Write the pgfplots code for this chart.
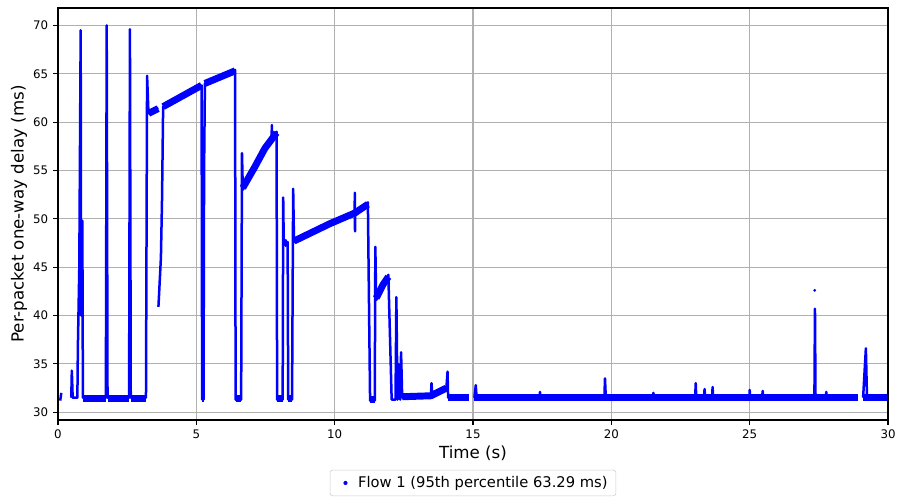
\documentclass[border=0pt]{standalone}
\usepackage{pgfplots}
\pgfplotsset{compat=1.18}
\usepackage{fontspec}
\setmainfont{DejaVu Sans}
\begin{document}
\begin{tikzpicture}
\begin{axis}[
 scale only axis, width=597.6pt, height=296.6pt,
 xmin=0, xmax=30, ymin=29.2, ymax=71.8,
 xtick={0,5,...,30}, ytick={30,35,...,70},
 grid=major, major grid style={color=black!31, line width=0.8pt},
 axis line style={line width=0.8pt},
 tick style={black, line width=0.8pt}, tick align=outside, major tick length=3.5pt, tick pos=left,
 /pgf/number format/assume math mode=true,
 ticklabel style={font=\fontsize{8.5}{10}\selectfont},
 xlabel={Time (s)}, ylabel={Per-packet one-way delay (ms)},
 label style={font=\fontsize{12}{14}\selectfont},
 xlabel style={at={(axis description cs:0.5,-0.080)}, anchor=center},
 ylabel style={at={(axis description cs:-0.047,0.5)}, anchor=center},
 legend style={at={(0.5,-0.121)}, anchor=north, draw=black!20, rounded corners=2pt,
   font=\fontsize{10.6}{12}\selectfont, legend cell align=left, inner xsep=4pt, inner ysep=2.5pt},
]
% thin trace (vertical excursions)
\addplot[blue, line width=1.8pt, forget plot] coordinates {(0.08,31.2)(0.12,32.0)};
\addplot[blue, line width=1.8pt, line join=round, forget plot] coordinates {
(0.48,31.5)(0.5,34.3)(0.53,31.5)(0.70,31.5)(0.72,37)(0.77,45)(0.80,60)(0.82,69.5)(0.835,40)(0.845,49.8)(0.88,49.8)(0.9,31.5)
(1.73,31.5)(1.76,70)(1.79,31.5)(2.57,31.5)(2.6,69.6)(2.63,31.5)(3.18,31.5)(3.22,64.8)(3.27,60.9)(3.62,61.5)};
\addplot[blue, line width=1.8pt, line join=round, forget plot] coordinates {
(3.63,40.9)(3.72,46)(3.76,52)(3.8,61.6)(5.19,63.8)(5.21,31.3)(5.26,31.3)(5.28,55)(5.31,64)(6.4,65.4)(6.42,31.3)(6.62,31.3)
(6.65,56.8)(6.68,53)(7.12,55.3)(7.48,57.3)(7.72,58.3)(7.73,59.7)(7.74,58.4)(7.9,59)(7.92,31.3)(8.12,31.3)(8.14,52.2)(8.16,47.3)
(8.3,47.6)(8.32,31.3)(8.46,31.3)(8.5,53.1)(8.53,47.6)(9.83,49.5)(10.72,50.7)(10.73,52.7)(10.735,48.7)(10.74,50.7)(11.2,51.7)
(11.28,31.2)(11.45,31.2)(11.47,47.1)(11.5,41.6)(11.75,43.2)(11.94,44.2)(12.06,31.3)(12.2,31.3)(12.23,41.9)(12.27,31.3)(12.3,35)
(12.37,31.3)(12.4,36.2)(12.44,31.6)(13.48,31.7)(13.5,33)(13.53,31.8)(14.04,32.6)(14.08,34.2)(14.1,31.5)(14.85,31.5)};
\addplot[blue, line width=1.8pt, line join=round, forget plot] coordinates {
(15.05,31.5)(15.1,32.8)(15.13,31.5)(17.4,31.5)(17.42,32.1)(17.44,31.5)(19.75,31.5)(19.77,33.5)(19.8,31.5)(21.5,31.5)(21.52,32.0)(21.54,31.5)
(23.03,31.5)(23.05,33)(23.07,31.5)(23.35,31.5)(23.37,32.4)(23.39,31.5)(23.64,31.5)(23.66,32.6)(23.68,31.5)(24.99,31.5)(25.0,32.3)(25.02,31.5)
(25.45,31.5)(25.47,32.2)(25.49,31.5)(27.34,31.5)(27.36,40.7)(27.38,31.5)(27.75,31.5)(27.77,32.1)(27.79,31.5)(28.9,31.5)};
\addplot[blue, line width=1.8pt, line join=round, forget plot] coordinates {(29.1,31.5)(29.2,36.6)(29.24,31.5)(29.95,31.5)};
% thick bands
\addplot[blue, line width=5pt, line cap=butt, line join=round, forget plot] coordinates {(0.9,31.4)(1.73,31.4)};
\addplot[blue, line width=5pt, line cap=butt, line join=round, forget plot] coordinates {(1.79,31.4)(2.57,31.4)};
\addplot[blue, line width=5pt, line cap=butt, line join=round, forget plot] coordinates {(2.63,31.4)(3.18,31.4)};
\addplot[blue, line width=5pt, line cap=butt, line join=round, forget plot] coordinates {(5.21,31.4)(5.26,31.4)};
\addplot[blue, line width=5pt, line cap=butt, line join=round, forget plot] coordinates {(6.42,31.4)(6.62,31.4)};
\addplot[blue, line width=5pt, line cap=butt, line join=round, forget plot] coordinates {(7.92,31.4)(8.12,31.4)};
\addplot[blue, line width=5pt, line cap=butt, line join=round, forget plot] coordinates {(8.32,31.4)(8.46,31.4)};
\addplot[blue, line width=5pt, line cap=butt, line join=round, forget plot] coordinates {(11.28,31.3)(11.45,31.3)};
\addplot[blue, line width=5pt, line cap=butt, line join=round, forget plot] coordinates {(12.44,31.6)(13.48,31.7)(14.04,32.5)};
\addplot[blue, line width=5pt, line cap=butt, line join=round, forget plot] coordinates {(14.1,31.5)(14.85,31.5)};
\addplot[blue, line width=5pt, line cap=butt, line join=round, forget plot] coordinates {(15.05,31.5)(28.9,31.5)};
\addplot[blue, line width=5pt, line cap=butt, line join=round, forget plot] coordinates {(29.1,31.5)(29.95,31.5)};
\addplot[blue, line width=5pt, line cap=butt, line join=round, forget plot] coordinates {(3.27,60.9)(3.62,61.4)};
\addplot[blue, line width=5pt, line cap=butt, line join=round, forget plot] coordinates {(3.8,61.6)(5.19,63.8)};
\addplot[blue, line width=5pt, line cap=butt, line join=round, forget plot] coordinates {(5.31,64.0)(6.4,65.3)};
\addplot[blue, line width=5pt, line cap=butt, line join=round, forget plot] coordinates {(6.68,53.2)(7.12,55.4)(7.48,57.3)(7.9,58.9)};
\addplot[blue, line width=5pt, line cap=butt, line join=round, forget plot] coordinates {(8.16,47.4)(8.3,47.6)};
\addplot[blue, line width=5pt, line cap=butt, line join=round, forget plot] coordinates {(8.53,47.7)(9.83,49.5)(10.73,50.6)(11.2,51.5)};
\addplot[blue, line width=5pt, line cap=butt, line join=round, forget plot] coordinates {(11.5,41.8)(11.75,43.2)(11.94,44.0)};
% outlier
\addplot[blue, only marks, mark=*, mark size=0.8pt, forget plot] coordinates {(27.35,42.6)};
\addlegendimage{legend image code/.code={\path[draw=none,fill=none] (0,-3pt) rectangle (0.5cm,3pt); \fill[blue,draw=none] (0.25cm,0) circle (1.5pt);}}
\addlegendentry{Flow 1 (95th percentile 63.29 ms)}
\end{axis}
\pgfresetboundingbox
\path ([shift={(-41.76pt,-56.16pt)}]current axis.south west) rectangle ([shift={(7.2pt,5.76pt)}]current axis.north east);
\end{tikzpicture}
\end{document}
